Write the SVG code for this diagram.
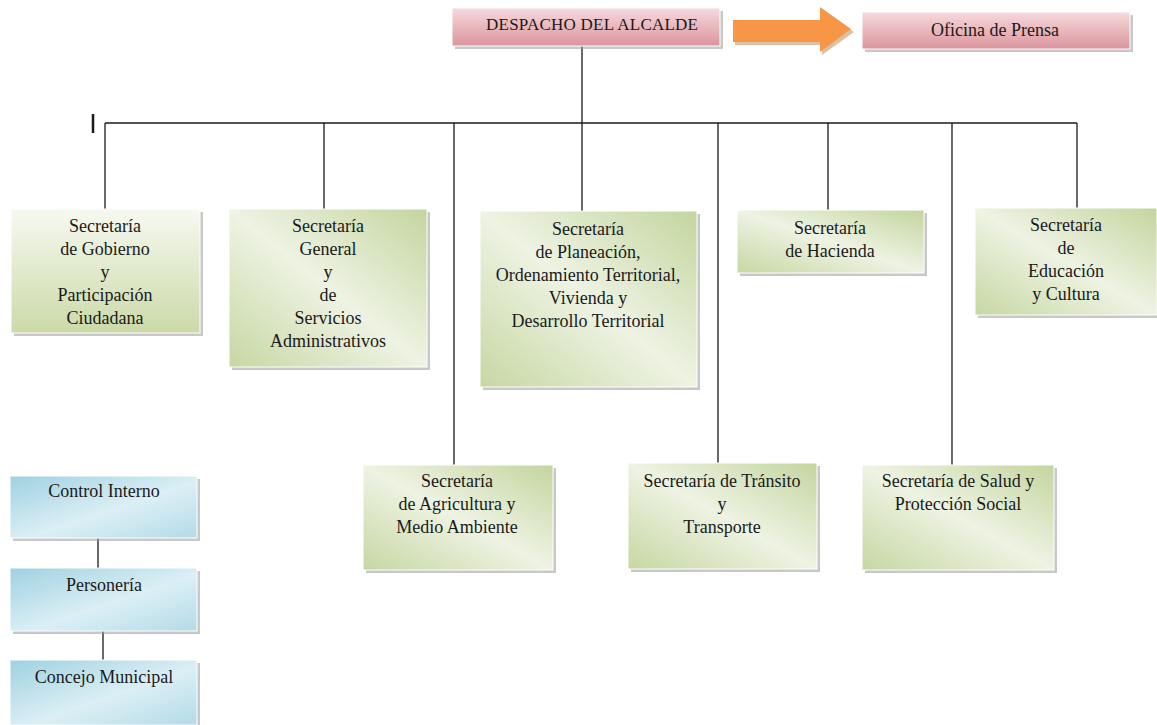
<svg xmlns="http://www.w3.org/2000/svg" width="1157" height="725" viewBox="0 0 1157 725">
<defs>
<linearGradient id="gGreenTop" x1="0" y1="0" x2="0" y2="1">
<stop offset="0" stop-color="#f7f9f1"/>
<stop offset="1" stop-color="#cbdaa8"/>
</linearGradient>
<linearGradient id="gGreenEdge" x1="1" y1="0" x2="0" y2="1">
<stop offset="0" stop-color="#c3d59e"/>
<stop offset="0.5" stop-color="#eef3e3"/>
<stop offset="1" stop-color="#c6d7a2"/>
</linearGradient>
<linearGradient id="gPink" x1="0" y1="0" x2="0" y2="1">
<stop offset="0" stop-color="#f6dadd"/>
<stop offset="1" stop-color="#db949c"/>
</linearGradient>
<linearGradient id="gBlue" x1="0" y1="0" x2="1" y2="1">
<stop offset="0" stop-color="#9fd1e0"/>
<stop offset="0.55" stop-color="#dbeff5"/>
<stop offset="1" stop-color="#b3dbe7"/>
</linearGradient>
</defs>
<style>
text{font-family:"Liberation Serif","DejaVu Serif",serif;font-size:18px;fill:#1a1a1a;text-anchor:middle}
.sh{fill:#9a9a9a;opacity:0.55}
.bx{stroke:#ffffff;stroke-width:1}
.ln{stroke:#1a1a1a;stroke-width:1.3;fill:none}
</style>
<rect width="1157" height="725" fill="#ffffff"/>

<g id="connectors">
<line class="ln" x1="582" y1="45" x2="582" y2="123"/>
<line class="ln" x1="105" y1="123" x2="1077" y2="123"/>
<line x1="93" y1="114" x2="93" y2="133" stroke="#1a1a1a" stroke-width="2.5"/>
<line class="ln" x1="105" y1="123" x2="105" y2="209"/>
<line class="ln" x1="324" y1="123" x2="324" y2="209"/>
<line class="ln" x1="454" y1="123" x2="454" y2="465"/>
<line class="ln" x1="582" y1="123" x2="582" y2="211"/>
<line class="ln" x1="718" y1="123" x2="718" y2="463"/>
<line class="ln" x1="828" y1="123" x2="828" y2="210"/>
<line class="ln" x1="952" y1="123" x2="952" y2="465"/>
<line class="ln" x1="1077" y1="123" x2="1077" y2="208"/>
<line class="ln" x1="98" y1="538" x2="98" y2="568"/>
<line class="ln" x1="103" y1="631" x2="103" y2="660"/>
</g>

<g id="arrow">
<polygon points="735,23 822,23 822,10 854,32 822,55 822,45 735,45" fill="#dcc0a6"/>
<polygon points="733,20 820,20 820,7 851,29 820,52 820,42 733,42" fill="#f79646"/>
</g>

<g id="despacho">
<rect class="sh" x="455" y="11" width="268" height="38"/>
<rect class="bx" x="452" y="8" width="268" height="38" fill="url(#gPink)"/>
<text x="592" y="30" style="font-size:17px" textLength="212" lengthAdjust="spacing">DESPACHO DEL ALCALDE</text>
</g>

<g id="prensa">
<rect class="sh" x="865" y="15" width="268" height="37"/>
<rect class="bx" x="862" y="12" width="268" height="37" fill="url(#gPink)"/>
<text x="995" y="36">Oficina de Prensa</text>
</g>

<g id="gobierno">
<rect class="sh" x="14" y="212" width="189" height="124"/>
<rect class="bx" x="11" y="209" width="189" height="124" fill="url(#gGreenTop)"/>
<text x="105" y="232">Secretaría</text>
<text x="105" y="255">de Gobierno</text>
<text x="105" y="278">y</text>
<text x="105" y="301">Participación</text>
<text x="105" y="324">Ciudadana</text>
</g>

<g id="general">
<rect class="sh" x="232" y="212" width="198" height="158"/>
<rect class="bx" x="229" y="209" width="198" height="158" fill="url(#gGreenEdge)"/>
<text x="328" y="232">Secretaría</text>
<text x="328" y="255">General</text>
<text x="328" y="278">y</text>
<text x="328" y="301">de</text>
<text x="328" y="324">Servicios</text>
<text x="328" y="347">Administrativos</text>
</g>

<g id="planeacion">
<rect class="sh" x="483" y="214" width="217" height="176"/>
<rect class="bx" x="480" y="211" width="217" height="176" fill="url(#gGreenEdge)"/>
<text x="588" y="235">Secretaría</text>
<text x="588" y="258">de Planeación,</text>
<text x="588" y="281">Ordenamiento Territorial,</text>
<text x="588" y="304">Vivienda y</text>
<text x="588" y="327">Desarrollo Territorial</text>
</g>

<g id="hacienda">
<rect class="sh" x="740" y="213" width="187" height="63"/>
<rect class="bx" x="737" y="210" width="187" height="63" fill="url(#gGreenEdge)"/>
<text x="830" y="234">Secretaría</text>
<text x="830" y="257">de Hacienda</text>
</g>

<g id="educacion">
<rect class="sh" x="978" y="211" width="182" height="107"/>
<rect class="bx" x="975" y="208" width="182" height="107" fill="url(#gGreenEdge)"/>
<text x="1066" y="231">Secretaría</text>
<text x="1066" y="254">de</text>
<text x="1066" y="277">Educación</text>
<text x="1066" y="300">y Cultura</text>
</g>

<g id="agricultura">
<rect class="sh" x="366" y="468" width="190" height="105"/>
<rect class="bx" x="363" y="465" width="190" height="105" fill="url(#gGreenEdge)"/>
<text x="457" y="487">Secretaría</text>
<text x="457" y="510">de Agricultura y</text>
<text x="457" y="533">Medio Ambiente</text>
</g>

<g id="transito">
<rect class="sh" x="631" y="466" width="189" height="106"/>
<rect class="bx" x="628" y="463" width="189" height="106" fill="url(#gGreenEdge)"/>
<text x="722" y="487">Secretaría de Tránsito</text>
<text x="722" y="510">y</text>
<text x="722" y="533">Transporte</text>
</g>

<g id="salud">
<rect class="sh" x="865" y="468" width="192" height="105"/>
<rect class="bx" x="862" y="465" width="192" height="105" fill="url(#gGreenEdge)"/>
<text x="958" y="487">Secretaría de Salud y</text>
<text x="958" y="510">Protección Social</text>
</g>

<g id="control">
<rect class="sh" x="13" y="479" width="187" height="62"/>
<rect class="bx" x="10" y="476" width="187" height="62" fill="url(#gBlue)"/>
<text x="104" y="497">Control Interno</text>
</g>

<g id="personeria">
<rect class="sh" x="13" y="571" width="187" height="63"/>
<rect class="bx" x="10" y="568" width="187" height="63" fill="url(#gBlue)"/>
<text x="104" y="591">Personería</text>
</g>

<g id="concejo">
<rect class="sh" x="13" y="663" width="187" height="65"/>
<rect class="bx" x="10" y="660" width="187" height="65" fill="url(#gBlue)"/>
<text x="104" y="683">Concejo Municipal</text>
</g>
</svg>
